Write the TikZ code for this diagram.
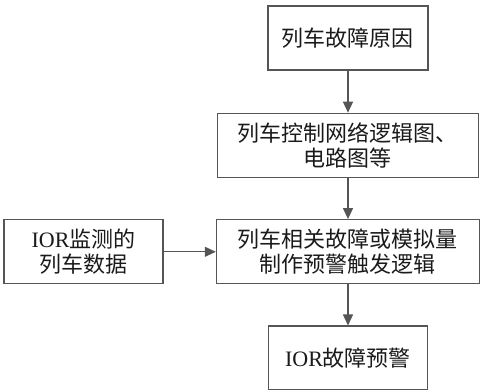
\documentclass[tikz,border=0pt]{standalone}
\usepackage{fontspec}
\setmainfont{Liberation Serif}
\newfontfamily\cjk{Noto Sans CJK SC}
\usetikzlibrary{arrows.meta, positioning}
\definecolor{linegray}{HTML}{555555}
\definecolor{textdark}{HTML}{1A1A1A}

\begin{document}
\begin{tikzpicture}[
  box/.style={rectangle, draw=linegray, line width=0.7pt, minimum height=32pt, inner sep=0pt, align=center,
    text=textdark, font=\fontsize{11pt}{12.5pt}\selectfont\cjk},
  arrow/.style={-{Triangle[length=5.5pt, width=5pt]}, draw=linegray, line width=0.6pt}
]
  \useasboundingbox (0,0) rectangle (242pt,-195pt);

  \node[box, minimum width=80pt] (cause) at (174pt,-19pt) {列车故障原因};
  \node[box, minimum width=130.5pt, below=21pt of cause] (logic) {列车控制网络逻辑图、\\电路图等};
  \node[box, minimum width=131.5pt, below=20.5pt of logic] (trigger) {列车相关故障或模拟量\\制作预警触发逻辑};
  \node[box, minimum width=79.5pt, left=26pt of trigger] (data) {{\rmfamily IOR}监测的\\列车数据};
  \node[box, minimum width=79.5pt, below=20.5pt of trigger] (alarm) {{\rmfamily IOR}故障预警};

  \draw[arrow] (cause) -- (logic);
  \draw[arrow] (logic) -- (trigger);
  \draw[arrow] (data) -- (trigger);
  \draw[arrow] (trigger) -- (alarm);
\end{tikzpicture}
\end{document}
